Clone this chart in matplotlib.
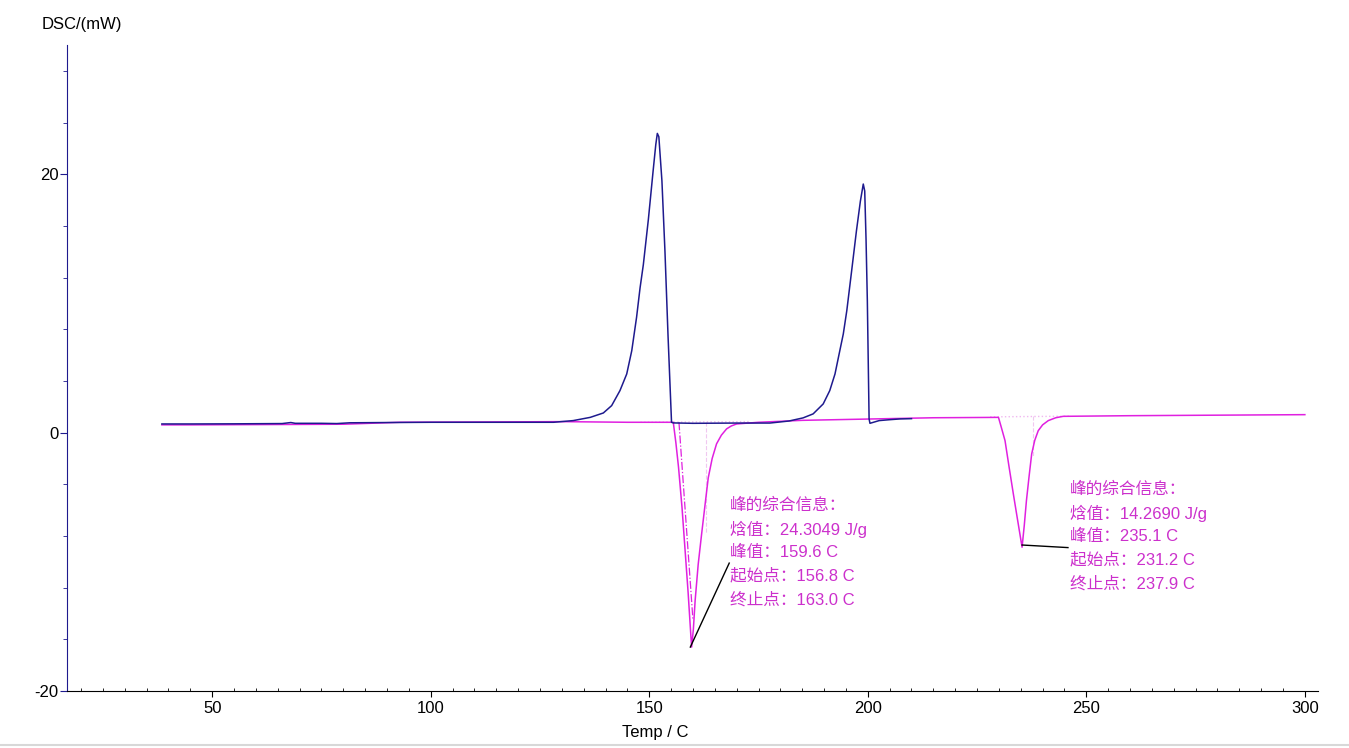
import matplotlib
matplotlib.use('Agg')
import matplotlib.pyplot as plt
from matplotlib.lines import Line2D
from matplotlib.ticker import MultipleLocator

# Heating curve (blue)
heat_T = [38.5, 45, 55, 66, 68, 69, 75, 78.5, 81.5, 90, 100, 110, 120, 125, 128.1, 132.6,
          136.5, 139.5, 141.4, 143.3, 144.85, 146.0, 147.1, 147.9, 148.65, 149.8, 150.9,
          151.5, 151.85, 152.2, 152.9, 153.6, 154.3, 155.1, 155.5,
          160, 165, 170, 175, 177.6, 182.0, 185.2, 187.5, 189.8, 191.3, 192.5, 193.6, 194.4,
          195.2, 196.3, 197.4, 198.3, 198.97, 199.3, 199.6, 199.9, 200.3, 200.5, 202.6, 205, 207.4, 210]
heat_mW = [0.67, 0.67, 0.68, 0.7, 0.78, 0.72, 0.72, 0.7, 0.76, 0.78, 0.8, 0.8, 0.8, 0.8, 0.8, 0.93,
           1.18, 1.52, 2.09, 3.25, 4.54, 6.34, 8.92, 11.2, 13.0, 16.5, 20.3,
           22.3, 23.16, 22.9, 19.5, 14.0, 7.5, 0.8, 0.75,
           0.72, 0.73, 0.74, 0.74, 0.74, 0.9, 1.14, 1.45, 2.22, 3.25, 4.54, 6.34, 7.64,
           9.44, 12.5, 15.6, 17.9, 19.24, 18.7, 15.0, 10.2, 1.06, 0.72, 0.93, 1.0, 1.06, 1.08]

# Cooling curve (magenta)
cool_T = [38.5, 45, 60, 80, 93, 110, 130, 145, 155.5, 156.1, 156.7, 157.5, 158.2, 158.9, 159.5,
          159.7, 160.1, 160.5, 161.2, 162.0, 162.8, 163.5, 164.4, 165.4, 166.5, 167.7, 168.8,
          170.0, 175, 185, 200, 215, 229.9, 230.6, 231.4, 232.3, 233.3, 234.1, 234.8,
          235.3, 235.8, 236.3, 236.9, 237.5, 238.2, 239.0, 240.0, 241.3, 243.0, 244.7, 260, 280, 300]
cool_mW = [0.6, 0.6, 0.62, 0.65, 0.8, 0.82, 0.85, 0.8, 0.8, -0.8, -2.68, -5.8, -9.1, -12.4, -15.6,
           -16.6, -15.2, -13.0, -10.2, -7.8, -5.5, -3.5, -2.0, -0.87, -0.2, 0.29, 0.52,
           0.67, 0.8, 0.95, 1.05, 1.15, 1.18, 0.35, -0.62, -2.6, -4.74, -6.4, -7.84,
           -8.87, -7.2, -5.26, -3.4, -1.65, -0.6, 0.15, 0.6, 0.93, 1.15, 1.26, 1.31, 1.35, 1.39]

# Peak analysis results
peak_info_1 = ['峰的综合信息：', '焓值：24.3049 J/g', '峰值：159.6 C', '起始点：156.8 C', '终止点：163.0 C']
peak_info_2 = ['峰的综合信息：', '焓值：14.2690 J/g', '峰值：235.1 C', '起始点：231.2 C', '终止点：237.9 C']

blue = '#1e1a8e'
magenta = '#e020e0'
text_mag = '#cc30cc'

plt.rcParams['font.family'] = ['Liberation Sans', 'DejaVu Sans']
plt.rcParams['axes.unicode_minus'] = False

fig = plt.figure(figsize=(13.49, 7.48), dpi=100)
ax = fig.add_axes([0.0497, 0.0762, 0.9273, 0.8636])

# integration baselines / helper lines (faint)
ax.plot([148, 173], [0.8, 0.85], ':', color='#f0b8f0', linewidth=1)
ax.plot([163.0, 163.0], [0.8, -7.8], '--', color='#f0c8f0', linewidth=0.8)
ax.plot([156.8, 160.0], [0.8, -14.5], '-.', color=magenta, linewidth=0.9)
ax.plot([228, 246], [1.22, 1.27], ':', color='#f0b8f0', linewidth=1)
ax.plot([237.9, 237.9], [1.25, -1.9], '--', color='#f0c8f0', linewidth=0.8)

ax.plot(cool_T, cool_mW, color=magenta, linewidth=1.1)
ax.plot(heat_T, heat_mW, color=blue, linewidth=1.1)

# leader lines + annotation text
ax.plot([159.4, 168.3], [-16.6, -10.1], color='black', linewidth=1)
ax.plot([235.3, 245.8], [-8.7, -8.9], color='black', linewidth=1)

step = 23.5 / 12.925
fam = ['Liberation Sans', 'Noto Sans CJK SC']
for i, line in enumerate(peak_info_1):
    ax.text(168.5, -5.65 - i * step, line, color=text_mag, fontsize=12, va='center', ha='left', family=fam)
for i, line in enumerate(peak_info_2):
    ax.text(246.2, -4.41 - i * step, line, color=text_mag, fontsize=12, va='center', ha='left', family=fam)

ax.set_xlim(16.8, 303)
ax.set_ylim(-20, 30)
ax.set_xticks([50, 100, 150, 200, 250, 300])
ax.set_yticks([-20, 0, 20])
ax.xaxis.set_minor_locator(MultipleLocator(5))
ax.yaxis.set_minor_locator(MultipleLocator(4))

for s in ['top', 'right']:
    ax.spines[s].set_visible(False)
ax.spines['left'].set_color(blue)
ax.spines['bottom'].set_color('black')

ax.tick_params(axis='x', which='major', direction='out', length=4, labelsize=12, pad=3)
ax.tick_params(axis='x', which='minor', direction='in', length=2.5)
ax.tick_params(axis='y', which='major', direction='out', length=5, labelsize=12, pad=1, color=blue)
ax.tick_params(axis='y', which='minor', direction='out', length=3, color=blue)

fig.text(42 / 1349, 1 - 25 / 748, 'DSC/(mW)', fontsize=12, ha='left', va='center')
fig.text(655 / 1349, 1 - 732 / 748, 'Temp / C', fontsize=12, ha='center', va='center')

fig.add_artist(Line2D([0, 1], [0.004, 0.004], color='#d8d8d8', linewidth=1.5, transform=fig.transFigure))

fig.savefig('out.png', dpi=100)
